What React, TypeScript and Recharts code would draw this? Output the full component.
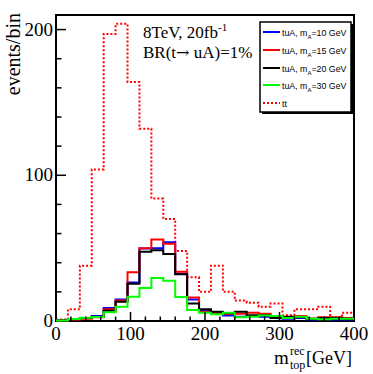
import React from 'react';
import { LineChart, Line, XAxis, YAxis, ReferenceArea } from 'recharts';

// bin lower edges (16 GeV bins, 0-400 GeV) plus the closing edge
const binEdges = [0, 16, 32, 48, 64, 80, 96, 112, 128, 144, 160, 176, 192, 208, 224, 240, 256, 272, 288, 304, 320, 336, 352, 368, 384, 400];

const tuA10 = [0.3, 1, 2, 3.4, 9, 14.8, 26.5, 49.8, 50, 54, 32.5, 14.8, 7.5, 5.5, 3.7, 3, 3.5, 3, 2, 1.5, 2, 1, 1.5, 1, 1];
const tuA15 = [0.2, 0.8, 1.5, 2.5, 8, 14, 33.5, 50, 56, 53, 33.8, 16.2, 6.4, 5.7, 5, 5, 5.7, 5, 2.5, 2, 3.5, 1.6, 2.5, 2.5, 2];
const tuA20 = [0.3, 1.2, 2, 3, 7, 13.2, 25.5, 47.5, 48.5, 46, 32, 12, 8, 6.4, 5.3, 6.4, 4, 4, 2, 3, 2.5, 1.6, 2, 2, 1.5];
const tuA30 = [0.3, 1.4, 2.3, 2.7, 6, 9.8, 16.7, 22.6, 29.5, 27.6, 16.5, 7.5, 5.7, 4.6, 5.7, 2.5, 3, 3.7, 3.4, 2, 3, 1.6, 1.2, 1.5, 1.5];
const ttBar = [1, 8, 38, 104, 197, 204, 164, 132, 84, 70, 48, 30, 20, 38, 20, 14, 12.6, 9.8, 12, 4, 8, 8, 9.8, 2.5, 5.7];

const xTicks = [0, 20, 40, 60, 80, 100, 120, 140, 160, 180, 200, 220, 240, 260, 280, 300, 320, 340, 360, 380, 400];
const yTicks = [0, 20, 40, 60, 80, 100, 120, 140, 160, 180, 200];

const legendMasses = ['10', '15', '20', '30'];
const seriesKeys = ['s10', 's15', 's20', 's30'];
const seriesColors = ['#0000ff', '#ff0000', '#000000', '#00ff00'];

const data = binEdges.map((x, i) => {
  const j = Math.min(i, tuA10.length - 1);
  return { x, s10: tuA10[j], s15: tuA15[j], s20: tuA20[j], s30: tuA30[j], tt: ttBar[j] };
});

const SERIF = '"Liberation Serif", "DejaVu Serif", serif';
const SANS = '"Liberation Sans", Arial, sans-serif';

const XTick = (props: any) => {
  const { x, y, payload } = props;
  const v = payload.value;
  const major = v % 100 === 0;
  const len = major ? 9 : 4.5;
  return (
    <g>
      {v !== 0 && v !== 400 && <line x1={x} y1={y} x2={x} y2={y - len} stroke="#000" strokeWidth={1.5} />}
      {major && (
        <text x={x} y={y + 19} textAnchor="middle" fontFamily={SERIF} fontSize={19} fill="#000">
          {v}
        </text>
      )}
    </g>
  );
};

const YTick = (props: any) => {
  const { x, y, payload } = props;
  const v = payload.value;
  const major = v % 100 === 0;
  const len = major ? 10 : 5.5;
  return (
    <g>
      {v !== 0 && <line x1={x} y1={y} x2={x + len} y2={y} stroke="#000" strokeWidth={1.5} />}
      {major && (
        <text x={x - 3} y={y + 6} textAnchor="end" fontFamily={SERIF} fontSize={19} fill="#000">
          {v}
        </text>
      )}
    </g>
  );
};

export default function App() {
  const legendY = [32, 50, 68, 85, 103];
  return (
    <div style={{ position: 'absolute', left: 0, top: 0, width: 373, height: 374, background: '#fff' }}>
      <LineChart width={373} height={374} data={data} margin={{ top: 15, right: 19, bottom: 23, left: 16 }}>
        <XAxis
          dataKey="x"
          type="number"
          domain={[0, 400]}
          ticks={xTicks}
          interval={0}
          axisLine={false}
          tickLine={false}
          tickSize={0}
          tickMargin={0}
          height={30}
          tick={<XTick />}
        />
        <YAxis
          type="number"
          domain={[0, 210]}
          ticks={yTicks}
          interval={0}
          axisLine={false}
          tickLine={false}
          tickSize={0}
          tickMargin={0}
          width={40}
          tick={<YTick />}
        />
        <Line type="stepAfter" dataKey="tt" stroke="#ff0000" strokeWidth={2} strokeDasharray="2 2" dot={false} isAnimationActive={false} />
        {seriesKeys.map((k, i) => (
          <Line key={k} type="stepAfter" dataKey={k} stroke={seriesColors[i]} strokeWidth={2} dot={false} isAnimationActive={false} />
        ))}
        <ReferenceArea x1={0} x2={400} y1={0} y2={210} fill="none" fillOpacity={0} stroke="#000" strokeWidth={2} ifOverflow="visible" />
      </LineChart>
      <svg width={373} height={374} style={{ position: 'absolute', left: 0, top: 0, pointerEvents: 'none' }}>
        {/* y axis title */}
        <text transform="translate(20,13) rotate(-90)" textAnchor="end" fontFamily={SERIF} fontSize={20} fill="#000">
          events/bin
        </text>
        {/* x axis title */}
        <text x={274} y={364} fontFamily={SERIF} fontSize={19} fill="#000">m</text>
        <text x={290} y={355} fontFamily={SERIF} fontSize={12} fill="#000">rec</text>
        <text x={290} y={369} fontFamily={SERIF} fontSize={12} fill="#000">top</text>
        <text x={306} y={364} fontFamily={SERIF} fontSize={18} fill="#000">[GeV]</text>
        {/* annotations */}
        <text x={143} y={38} fontFamily={SERIF} fontSize={17} fill="#000">
          8TeV, 20fb
          <tspan fontSize={11} dy={-7}>-1</tspan>
        </text>
        <text x={143} y={58} fontFamily={SERIF} fontSize={17} fill="#000">
          BR(t
          <tspan fontFamily={'"DejaVu Serif", serif'} fontSize={16}>→</tspan>
          {' uA)=1%'}
        </text>
        {/* legend */}
        <rect x={260} y={22} width={91} height={90} fill="#fff" stroke="#000" strokeWidth={1.5} />
        <line x1={352} y1={24} x2={352} y2={113} stroke="#000" strokeWidth={2} />
        <line x1={262} y1={113} x2={353} y2={113} stroke="#000" strokeWidth={2} />
        {legendMasses.map((m, i) => (
          <g key={m}>
            <line x1={263} y1={legendY[i]} x2={280} y2={legendY[i]} stroke={seriesColors[i]} strokeWidth={2} />
            <text x={282} y={legendY[i] + 3.5} fontFamily={SANS} fontSize={8.8} fill="#000">
              tuA, m
              <tspan fontSize={6} dy={3}>A</tspan>
              <tspan dy={-3}>={m} GeV</tspan>
            </text>
          </g>
        ))}
        <line x1={263} y1={legendY[4]} x2={280} y2={legendY[4]} stroke="#ff0000" strokeWidth={2} strokeDasharray="2 2" />
        <text x={282} y={legendY[4] + 3.5} fontFamily={SANS} fontSize={8.8} fill="#000">tt</text>
      </svg>
    </div>
  );
}
